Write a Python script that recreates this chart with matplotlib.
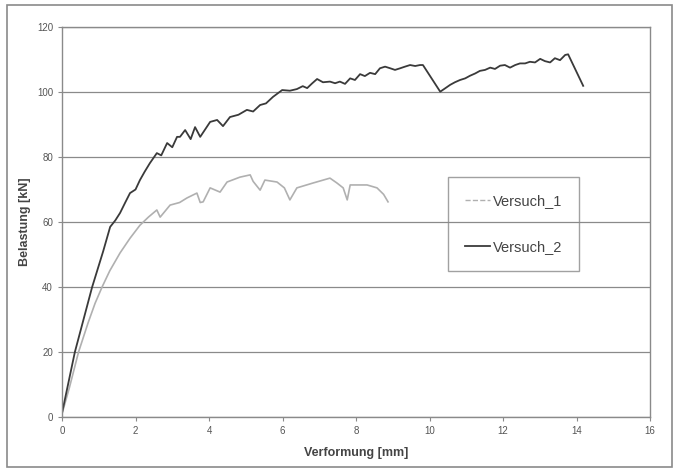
import matplotlib.pyplot as plt
from matplotlib.lines import Line2D
from matplotlib.patches import Rectangle

# Versuch_1 (hellgrau)
v1_x = [0.0, 0.2, 0.45, 0.71, 0.9, 1.09, 1.3, 1.58, 1.85, 2.12, 2.35, 2.58, 2.67, 2.94,
        3.2, 3.4, 3.67, 3.76, 3.84, 4.03, 4.3, 4.49, 4.84, 5.12, 5.2, 5.39, 5.52, 5.85,
        6.05, 6.2, 6.39, 6.83, 7.29, 7.48, 7.65, 7.76, 7.84, 8.3, 8.57, 8.75, 8.87]
v1_y = [1.0, 9.0, 20.0, 29.0, 35.0, 40.0, 45.0, 50.5, 55.0, 59.0, 61.5, 63.7, 61.5, 65.2,
        66.0, 67.4, 68.9, 66.0, 66.2, 70.5, 69.2, 72.3, 73.8, 74.5, 72.5, 69.8, 72.9, 72.3,
        70.5, 66.8, 70.5, 72.0, 73.5, 72.0, 70.5, 66.8, 71.4, 71.4, 70.5, 68.5, 66.2]

# Versuch_2 (dunkel)
v2_x = [0.0, 0.35, 0.82, 1.12, 1.31, 1.45, 1.58, 1.72, 1.85, 2.0, 2.12, 2.25, 2.39, 2.58,
        2.7, 2.86, 3.0, 3.13, 3.21, 3.35, 3.5, 3.62, 3.76, 4.03, 4.22, 4.38, 4.57, 4.8,
        5.03, 5.2, 5.39, 5.55, 5.74, 5.99, 6.2, 6.39, 6.55, 6.67, 6.8, 6.94, 7.1, 7.29,
        7.43, 7.56, 7.70, 7.84, 7.97, 8.11, 8.24, 8.38, 8.52, 8.65, 8.79, 8.93, 9.06,
        9.20, 9.33, 9.47, 9.61, 9.74, 9.82, 10.29, 10.42, 10.56, 10.69, 10.83, 10.97,
        11.10, 11.24, 11.37, 11.51, 11.65, 11.78, 11.92, 12.05, 12.19, 12.33, 12.46,
        12.60, 12.73, 12.87, 13.01, 13.14, 13.28, 13.41, 13.55, 13.69, 13.77, 14.18]
v2_y = [1.2, 20.0, 40.0, 51.0, 58.5, 60.5, 62.8, 66.0, 68.9, 70.0, 72.9, 75.5, 78.1, 81.2,
        80.5, 84.3, 83.0, 86.2, 86.2, 88.3, 85.5, 89.2, 86.2, 90.8, 91.4, 89.5, 92.3, 93.0,
        94.5, 94.0, 96.0, 96.5, 98.5, 100.6, 100.4, 100.9, 101.8, 101.2, 102.6, 104.0,
        103.0, 103.2, 102.7, 103.2, 102.5, 104.2, 103.7, 105.5, 104.9, 105.9, 105.5,
        107.3, 107.8, 107.3, 106.8, 107.3, 107.8, 108.3, 108.0, 108.3, 108.3, 100.1,
        101.1, 102.2, 103.0, 103.7, 104.2, 105.0, 105.7, 106.5, 106.8, 107.5, 107.1,
        108.1, 108.3, 107.5, 108.3, 108.8, 108.8, 109.3, 109.1, 110.2, 109.5, 109.1,
        110.4, 109.8, 111.4, 111.6, 101.9]

x_ticks = [0, 2, 4, 6, 8, 10, 12, 14, 16]
y_ticks = [0, 20, 40, 60, 80, 100, 120]

plt.rcParams['font.family'] = ['Liberation Sans', 'DejaVu Sans']

fig = plt.figure(figsize=(6.8, 4.73), dpi=100)
ax = fig.add_axes([0.0912, 0.1184, 0.8648, 0.8245])

ax.plot(v1_x, v1_y, color='#b0b0b0', linewidth=1.2)
ax.plot(v2_x, v2_y, color='#3a3a3a', linewidth=1.3)

ax.set_xlim(0, 16)
ax.set_ylim(0, 120)
ax.set_xticks(x_ticks)
ax.set_yticks(y_ticks)
ax.yaxis.grid(True, color='#8a8a8a', linewidth=0.9)
ax.set_axisbelow(True)
for s in ax.spines.values():
    s.set_color('#8a8a8a')
    s.set_linewidth(1.0)
ax.tick_params(colors='#8a8a8a', labelcolor='#555555', labelsize=7, length=3)

ax.set_xlabel('Verformung [mm]', fontsize=9, fontweight='bold', color='#444444', labelpad=8)
ax.set_ylabel('Belastung [kN]', fontsize=9, fontweight='bold', color='#444444', labelpad=4)

handles = [Line2D([], [], color='#b0b0b0', linestyle='--', linewidth=1.0),
           Line2D([], [], color='#3a3a3a', linewidth=1.3)]
leg = ax.legend(handles, ['Versuch_1', 'Versuch_2'], loc='upper left',
                bbox_to_anchor=(0.6565, 0.6150), fontsize=10.5, labelspacing=2.2,
                handlelength=1.75, handletextpad=0.15, borderpad=1.15, borderaxespad=0,
                fancybox=False, facecolor='none', framealpha=None, edgecolor='#8a8a8a')
leg.get_frame().set_linewidth(1.0)
for t in leg.get_texts():
    t.set_color('#444444')

fig.patches.append(Rectangle((0.0103, 0.0127), 0.978, 0.976, transform=fig.transFigure,
                             fill=False, edgecolor='#8a8a8a', linewidth=1.2))

fig.savefig('out.png', dpi=100)
